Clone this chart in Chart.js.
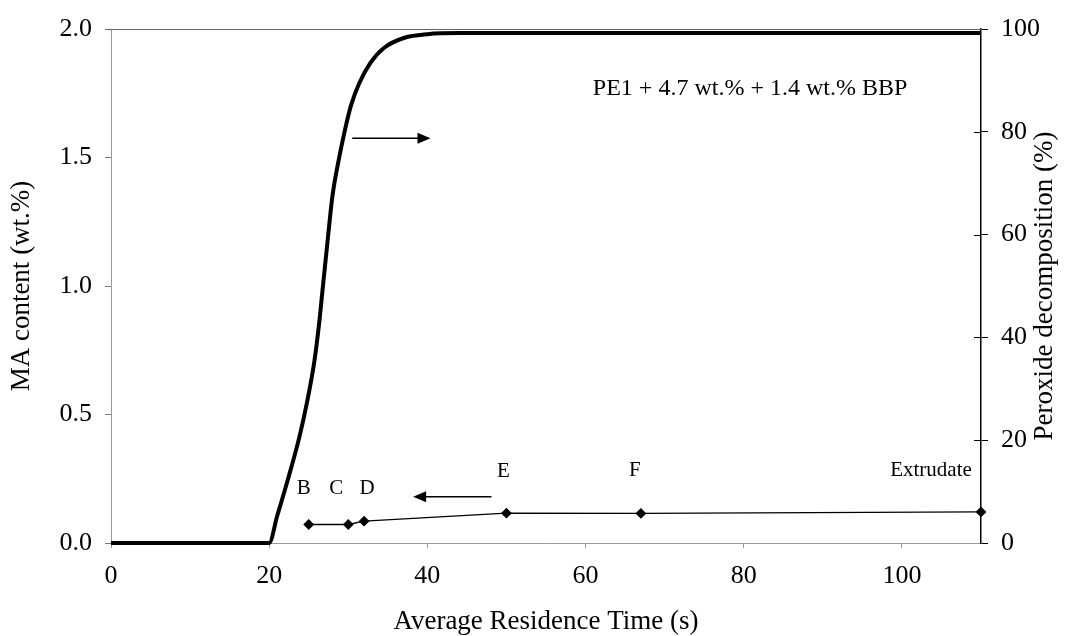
<!DOCTYPE html>
<html>
<head>
<meta charset="utf-8">
<title>Peroxide decomposition and MA content</title>
<script src="https://cdn.jsdelivr.net/npm/chart.js@4.4.1/dist/chart.umd.min.js"></script>
<style>
  html, body { margin: 0; padding: 0; background: #fff; }
  #chart { display: block; }
</style>
</head>
<body>
<canvas id="chart" width="1079" height="636"></canvas>
<script>
// Peroxide decomposition curve (right axis, %)
const peroxideTime = [0, 20, 21.0, 22.3, 23.8, 24.8, 25.7, 26.3, 26.7, 27.4, 28.0, 28.8, 29.5, 30.3, 31.4, 32.8, 34.5, 37.1, 40.0, 44.2, 110];
const peroxideDecomp = [0, 0, 5.2, 12.0, 20.5, 27.5, 35.2, 42.5, 48.5, 59.0, 67.5, 74.6, 79.8, 84.9, 89.5, 93.4, 96.3, 98.3, 99.0, 99.2, 99.2];

// MA content of the samples (left axis, wt.%)
const sampleNames = ['B', 'C', 'D', 'E', 'F', 'Extrudate'];
const sampleTime = [25, 30, 32, 50, 67, 110];
const maContent = [0.072, 0.072, 0.085, 0.116, 0.115, 0.121];

const xTitle = 'Average Residence Time (s)';
const leftTitle = 'MA content (wt.%)';
const rightTitle = 'Peroxide decomposition (%)';
const noteText = 'PE1 + 4.7 wt.% + 1.4 wt.% BBP';

const serif = "'Liberation Serif', 'Times New Roman', serif";

// label placement relative to each sample marker (px)
const labelOffsets = [[-5, -36], [-12, -36], [3, -33], [-3, -42], [-6, -43], [-50, -41]];

const overlay = {
    id: 'overlay',
    afterDraw(chart) {
        const { ctx, chartArea: a, scales } = chart;
        const x = scales.x, y = scales.y, y1 = scales.y1;
        ctx.save();

        // top frame line
        ctx.strokeStyle = '#666';
        ctx.lineWidth = 1;
        ctx.beginPath();
        ctx.moveTo(a.left - 4, a.top + 0.5);
        ctx.lineTo(a.right, a.top + 0.5);
        ctx.stroke();

        // inner half of the right axis ticks
        ctx.strokeStyle = '#000';
        y1.ticks.forEach(t => {
            if (t.value <= 0 || t.value >= 100) return;
            const py = Math.round(y1.getPixelForValue(t.value)) + 0.5;
            ctx.beginPath();
            ctx.moveTo(a.right - 7, py);
            ctx.lineTo(a.right, py);
            ctx.stroke();
        });

        // arrows pointing at the relevant axis
        const arrow = (x0, x1, yv) => {
            const px0 = x.getPixelForValue(x0), px1 = x.getPixelForValue(x1);
            const py = y.getPixelForValue(yv);
            const dir = Math.sign(px1 - px0);
            ctx.strokeStyle = '#000';
            ctx.fillStyle = '#000';
            ctx.lineWidth = 1.5;
            ctx.beginPath();
            ctx.moveTo(px0, py);
            ctx.lineTo(px1 - dir * 10, py);
            ctx.stroke();
            ctx.beginPath();
            ctx.moveTo(px1, py);
            ctx.lineTo(px1 - dir * 13, py - 5.5);
            ctx.lineTo(px1 - dir * 13, py + 5.5);
            ctx.closePath();
            ctx.fill();
        };
        arrow(30.5, 40.4, 1.575);
        arrow(48.1, 38.2, 0.18);

        // sample labels
        ctx.fillStyle = '#000';
        ctx.font = '21px ' + serif;
        ctx.textBaseline = 'middle';
        ctx.textAlign = 'center';
        sampleNames.forEach((name, i) => {
            const px = x.getPixelForValue(sampleTime[i]);
            const py = y.getPixelForValue(maContent[i]);
            const [dx, dy] = labelOffsets[i];
            ctx.fillText(name, px + dx, py + dy);
        });

        // composition note
        ctx.font = '24px ' + serif;
        ctx.fillText(noteText, x.getPixelForValue(80.8), y.getPixelForValue(1.766));

        // right axis title, reading bottom to top
        ctx.font = '27px ' + serif;
        ctx.translate(1045, (a.top + a.bottom) / 2);
        ctx.rotate(-Math.PI / 2);
        ctx.fillText(rightTitle, 0, 0);

        ctx.restore();
    }
};

const tickFont = { family: serif, size: 26 };

new Chart(document.getElementById('chart'), {
    type: 'line',
    data: {
        datasets: [
            {
                label: 'MA content',
                data: sampleTime.map((t, i) => ({ x: t, y: maContent[i] })),
                yAxisID: 'y',
                borderColor: '#000',
                borderWidth: 1.3,
                pointStyle: 'rectRot',
                pointRadius: 4.5,
                pointBackgroundColor: '#000',
                pointBorderColor: '#000',
                tension: 0,
                clip: false
            },
            {
                label: 'Peroxide decomposition',
                data: peroxideTime.map((t, i) => ({ x: t, y: peroxideDecomp[i] })),
                yAxisID: 'y1',
                borderColor: '#000',
                borderWidth: 4,
                pointRadius: 0,
                cubicInterpolationMode: 'monotone',
                clip: false
            }
        ]
    },
    options: {
        responsive: false,
        animation: false,
        events: [],
        layout: { padding: { top: 29, left: 0, right: 0, bottom: 0 } },
        plugins: {
            legend: { display: false },
            tooltip: { enabled: false }
        },
        scales: {
            x: {
                type: 'linear',
                position: 'bottom',
                min: 0,
                max: 110,
                ticks: {
                    stepSize: 20,
                    includeBounds: false,
                    padding: 13,
                    color: '#000',
                    font: tickFont,
                    maxRotation: 0
                },
                grid: { drawOnChartArea: false, tickLength: 5, color: '#999' },
                border: { color: '#999', dash: [6, 4], width: 1 },
                title: {
                    display: true,
                    text: xTitle,
                    color: '#000',
                    font: { family: serif, size: 27, lineHeight: 1 },
                    padding: { top: 0, bottom: 1 }
                },
                afterFit: s => { s.height = 93; }
            },
            y: {
                type: 'linear',
                position: 'left',
                min: 0,
                max: 2,
                ticks: {
                    stepSize: 0.5,
                    padding: 13,
                    color: '#000',
                    font: tickFont,
                    callback: v => v.toFixed(1)
                },
                grid: { drawOnChartArea: false, tickLength: 6, color: '#777' },
                border: { color: '#999', width: 1 },
                title: {
                    display: true,
                    text: leftTitle,
                    color: '#000',
                    font: { family: serif, size: 27 },
                    padding: { top: 5.5, bottom: 0 }
                },
                afterFit: s => { s.width = 111; }
            },
            y1: {
                type: 'linear',
                position: 'right',
                min: 0,
                max: 100,
                ticks: {
                    stepSize: 20,
                    padding: 13,
                    color: '#000',
                    font: tickFont
                },
                grid: { drawOnChartArea: false, tickLength: 7, color: '#000' },
                border: { color: '#000', width: 1.5 },
                title: { display: false },
                afterFit: s => { s.width = 98; }
            }
        }
    },
    plugins: [overlay]
});
</script>
</body>
</html>
